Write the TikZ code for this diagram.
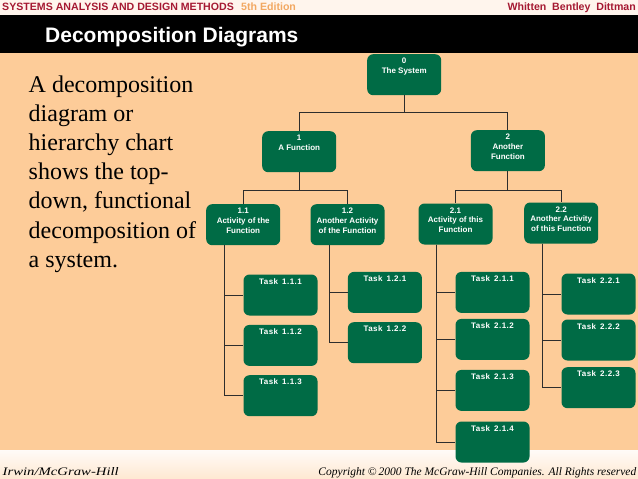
\documentclass[tikz,border=0pt]{standalone}
\usepackage{fontspec}
\usepackage{graphicx}
\setmainfont{Liberation Serif}
\newfontfamily\hsans{Liberation Sans}
\newfontfamily\tasksans{Liberation Sans}[LetterSpace=6]
\usetikzlibrary{calc}
\definecolor{peach}{RGB}{253,204,153}
\definecolor{boxgreen}{RGB}{0,107,69}
\definecolor{hdrred}{RGB}{165,25,50}
\definecolor{hdrorange}{RGB}{242,168,98}
\definecolor{hdrbg}{RGB}{255,245,237}
\definecolor{linegray}{RGB}{45,45,45}
\newcommand{\gtext}[1]{\parbox[c][41pt][t]{74pt}{\centering\vspace*{4pt}#1}}
\tikzset{
  gbox/.style={fill=boxgreen, rounded corners=6pt, inner sep=0pt, minimum width=74pt,
    minimum height=41pt, anchor=north west, text=white,
    font=\hsans\bfseries\fontsize{8}{9.7}\selectfont},
  tbox/.style={gbox, font=\tasksans\bfseries\fontsize{8}{9.7}\selectfont},
  conn/.style={draw=linegray, line width=1pt},
  hdrtext/.style={inner sep=0pt, font=\hsans\bfseries\fontsize{10.6}{12}\selectfont},
  foottext/.style={inner sep=0pt, font=\itshape\fontsize{11.5}{13}\selectfont},
}
\begin{document}
\begin{tikzpicture}[x=1pt,y=-1pt]
\useasboundingbox (0,0) rectangle (638,479);
% backgrounds
\fill[peach] (0,0) rectangle (638,450);
\fill[hdrbg] (0,0) rectangle (638,15);
\fill[black] (0,15) rectangle (638,52.5);
\shade[top color=white!60!hdrbg, bottom color=peach!45!white] (0,450) rectangle (638,479);

% header
\node[hdrtext, anchor=base west, text=hdrred] (hdl) at (2,10.7) {SYSTEMS ANALYSIS AND DESIGN METHODS};
\node[hdrtext, anchor=base west, text=hdrorange] (hded) at (241,10.7) {5th Edition};
\node[hdrtext, anchor=base east, text=hdrred] (hdr) at (636,10.7) {Whitten\hspace{0.55em}Bentley\hspace{0.55em}Dittman};
\node[anchor=base west, inner sep=0pt, text=white, font=\hsans\bfseries\fontsize{21}{25}\selectfont] (title) at (45,42) {Decomposition Diagrams};

% description (base anchor = last line)
\node[anchor=base west, inner sep=0pt, align=left, font=\fontsize{24}{29.2}\selectfont] (desc) at (28.5,267.3)
  {A decomposition\\diagram or\\hierarchy chart\\shows the top-\\down, functional\\decomposition of\\a system.};

% footer
\node[foottext, anchor=base west] (ftl) at (2.5,475) {\scalebox{1.28}[1]{Irwin/McGraw-Hill}};
\node[foottext, anchor=base east] (ftr) at (636.5,475) {Copyright \textcopyright\,2000 The McGraw-Hill Companies. All Rights reserved};

% boxes
\node[gbox] (n0) at (367,54) {\gtext{0\\The System}};
\node[gbox] (n1) at (262,131) {\gtext{1\\A Function}};
\node[gbox] (n2) at (470.7,130) {\gtext{2\\Another\\Function}};
\node[gbox] (n11) at (206,204) {\gtext{1.1\\Activity of the\\Function}};
\node[gbox] (n12) at (310.3,204) {\gtext{1.2\\Another Activity\\of the Function}};
\node[gbox] (n21) at (418.3,203.3) {\gtext{2.1\\Activity of this\\Function}};
\node[gbox] (n22) at (524,202.3) {\gtext{2.2\\Another Activity\\of this Function}};

\node[tbox] (t111) at (243.3,274.3) {\gtext{Task\hspace{4pt}1.1.1}};
\node[tbox] (t112) at (243.3,324.7) {\gtext{Task\hspace{4pt}1.1.2}};
\node[tbox] (t113) at (243.3,375) {\gtext{Task\hspace{4pt}1.1.3}};
\node[tbox] (t121) at (347.7,271.7) {\gtext{Task\hspace{4pt}1.2.1}};
\node[tbox] (t122) at (347.7,322) {\gtext{Task\hspace{4pt}1.2.2}};
\node[tbox] (t211) at (455.3,271.7) {\gtext{Task\hspace{4pt}2.1.1}};
\node[tbox] (t212) at (455.3,318.7) {\gtext{Task\hspace{4pt}2.1.2}};
\node[tbox] (t213) at (455.3,369.7) {\gtext{Task\hspace{4pt}2.1.3}};
\node[tbox] (t214) at (455.3,421.3) {\gtext{Task\hspace{4pt}2.1.4}};
\node[tbox] (t221) at (561.3,273.3) {\gtext{Task\hspace{4pt}2.2.1}};
\node[tbox] (t222) at (561.3,319.3) {\gtext{Task\hspace{4pt}2.2.2}};
\node[tbox] (t223) at (561.3,367) {\gtext{Task\hspace{4pt}2.2.3}};

% connectors between levels
\draw[conn] (n0.south) -- ++(0,17.3) -| (n1.north);
\draw[conn] (n0.south) -- ++(0,17.3) -| (n2.north);
\draw[conn] (n1.south) -- ++(0,18.3) -| (n11.north);
\draw[conn] (n1.south) -- ++(0,18.3) -| (n12.north);
\draw[conn] (n2.south) -- ++(0,19.3) -| (n21.north);
\draw[conn] (n2.south) -- ++(0,19.3) -| (n22.north);

% trunks to tasks
\coordinate (k11) at ($(n11.south west)+(18.3,0)$);
\coordinate (k12) at ($(n12.south west)+(19,0)$);
\coordinate (k21) at ($(n21.south west)+(18.4,0)$);
\coordinate (k22) at ($(n22.south west)+(18.3,0)$);
\draw[conn] (k11) |- (t111.west);
\draw[conn] (k11) |- (t112.west);
\draw[conn] (k11) |- (t113.west);
\draw[conn] (k12) |- (t121.west);
\draw[conn] (k12) |- (t122.west);
\draw[conn] (k21) |- (t211.west);
\draw[conn] (k21) |- (t212.west);
\draw[conn] (k21) |- (t213.west);
\draw[conn] (k21) |- (t214.west);
\draw[conn] (k22) |- (t221.west);
\draw[conn] (k22) |- (t222.west);
\draw[conn] (k22) |- (t223.west);
\end{tikzpicture}
\end{document}
